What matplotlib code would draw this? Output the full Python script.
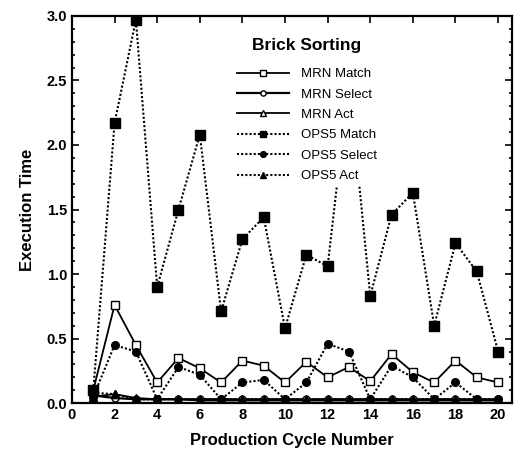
import matplotlib
matplotlib.use("Agg")
import matplotlib.pyplot as plt
from matplotlib.ticker import MultipleLocator

cycles = list(range(1, 21))

mrn_match = [0.10, 0.76, 0.45, 0.16, 0.35, 0.27, 0.16, 0.33, 0.29, 0.16,
             0.32, 0.20, 0.28, 0.17, 0.38, 0.24, 0.16, 0.33, 0.20, 0.16]
mrn_select = [0.06, 0.04, 0.03, 0.03, 0.03, 0.03, 0.03, 0.03, 0.03, 0.03,
              0.03, 0.03, 0.03, 0.03, 0.03, 0.03, 0.03, 0.03, 0.03, 0.03]
mrn_act = [0.05, 0.07, 0.04, 0.03, 0.03, 0.02, 0.02, 0.02, 0.02, 0.02,
           0.02, 0.02, 0.02, 0.02, 0.02, 0.02, 0.02, 0.02, 0.02, 0.02]
ops5_match = [0.10, 2.17, 2.97, 0.90, 1.50, 2.08, 0.71, 1.27, 1.44, 0.58,
              1.15, 1.06, 2.50, 0.83, 1.46, 1.63, 0.60, 1.24, 1.02, 0.40]
ops5_select = [0.05, 0.45, 0.40, 0.03, 0.28, 0.22, 0.03, 0.16, 0.18, 0.03,
               0.16, 0.46, 0.40, 0.03, 0.29, 0.20, 0.03, 0.16, 0.03, 0.03]
ops5_act = [0.08, 0.07, 0.03, 0.03, 0.03, 0.03, 0.03, 0.03, 0.03, 0.03,
            0.03, 0.03, 0.03, 0.03, 0.03, 0.03, 0.03, 0.03, 0.03, 0.03]

plt.rcParams['font.family'] = ['Liberation Sans', 'DejaVu Sans']

fig = plt.figure(figsize=(5.14, 4.54), dpi=100)
ax = fig.add_axes([0.140, 0.112, 0.856, 0.853])

dot = (0, (1, 1))
ax.plot(cycles, mrn_match, '-', color='black', lw=1.3, marker='s', ms=6,
        mfc='white', mec='black', mew=1.0, label='MRN Match')
ax.plot(cycles, mrn_select, '-', color='black', lw=1.6, marker='o', ms=5,
        mfc='white', mec='black', mew=1.0, label='MRN Select')
ax.plot(cycles, mrn_act, '-', color='black', lw=1.3, marker='^', ms=6,
        mfc='white', mec='black', mew=1.0, label='MRN Act')
ax.plot(cycles, ops5_match, linestyle=dot, color='black', lw=1.5, marker='s',
        ms=6.5, mfc='black', mec='black', label='OPS5 Match')
ax.plot(cycles, ops5_select, linestyle=dot, color='black', lw=1.5, marker='o',
        ms=5.5, mfc='black', mec='black', label='OPS5 Select')
ax.plot(cycles, ops5_act, linestyle=dot, color='black', lw=1.5, marker='^',
        ms=5.5, mfc='black', mec='black', label='OPS5 Act')

ax.set_xlim(0, 20.65)
ax.set_ylim(0, 3.0)
ax.xaxis.set_major_locator(MultipleLocator(2))
ax.yaxis.set_minor_locator(MultipleLocator(0.1))
ax.set_yticks([0, 0.5, 1.0, 1.5, 2.0, 2.5, 3.0])
ax.set_yticklabels(['0.0', '0.5', '1.0', '1.5', '2.0', '2.5', '3.0'])
ax.tick_params(which='both', direction='in', top=True, right=True,
               labelsize=10.5, width=1.2)
ax.tick_params(which='major', length=5)
ax.tick_params(which='minor', length=2.5)
for lab in ax.get_xticklabels() + ax.get_yticklabels():
    lab.set_fontweight('bold')
for s in ax.spines.values():
    s.set_linewidth(1.6)

ax.set_xlabel('Production Cycle Number', fontsize=12, fontweight='bold', labelpad=8)
ax.set_ylabel('Execution Time', fontsize=12, fontweight='bold', labelpad=8)

leg = ax.legend(loc='upper left', bbox_to_anchor=(0.35, 0.970), title='Brick Sorting',
                frameon=True, edgecolor='none', facecolor='white', framealpha=1,
                fontsize=9.5, handlelength=4.0, markerscale=0.75,
                labelspacing=0.62, borderpad=0.3, handletextpad=0.9)
leg.get_title().set_fontsize(12.5)
leg.get_title().set_fontweight('bold')
leg._legend_box.sep = 10.7  # extra gap between title and entries

fig.savefig('out.png', dpi=100)
